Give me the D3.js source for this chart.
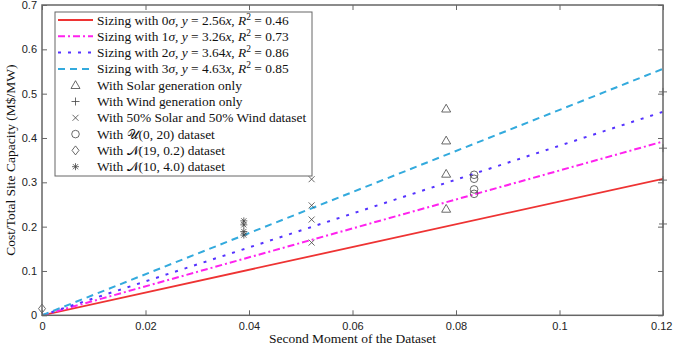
<!DOCTYPE html>
<html><head><meta charset="utf-8">
<script src="https://cdn.jsdelivr.net/npm/d3@7"></script>
<style>body{margin:0;background:#fff}</style>
</head><body>
<svg id="c" width="673" height="351"></svg>
<script>
// ---- data ----
const xTicks = [0, 0.02, 0.04, 0.06, 0.08, 0.1, 0.12];
const xTickLabels = ["0", "0.02", "0.04", "0.06", "0.08", "0.1", "0.12"];
const yTicks = [0, 0.1, 0.2, 0.3, 0.4, 0.5, 0.6, 0.7];
const yTickLabels = ["0", "0.1", "0.2", "0.3", "0.4", "0.5", "0.6", "0.7"];
const fitNames = ["0σ", "1σ", "2σ", "3σ"];
const fitSlopeLabels = ["2.56", "3.26", "3.64", "4.63"];
const fitR2 = ["0.46", "0.73", "0.86", "0.85"];
const fitEndY = [0.308, 0.392, 0.459, 0.556]; // line value at x = 0.12 as drawn
const solarX = [0.0781, 0.0781, 0.0781, 0.0781];
const solarY = [0.466, 0.394, 0.319, 0.240];
const windX = [0.12, 0.12, 0.12, 0.12];
const windY = [0.504, 0.377, 0.305, 0.206];
const mixX = [0.0521, 0.0521, 0.0521, 0.0521];
const mixY = [0.307, 0.248, 0.216, 0.164];
const uniX = [0.0835, 0.0835, 0.0835, 0.0835];
const uniY = [0.317, 0.308, 0.284, 0.274];
const n19X = [0];
const n19Y = [0.015];
const n10X = [0.039, 0.039, 0.039, 0.039];
const n10Y = [0.213, 0.204, 0.189, 0.181];
const scatterNames = ["With Solar generation only", "With Wind generation only",
  "With 50% Solar and 50% Wind dataset", "U", "N19", "N10"];

// ---- drawing ----
const svg = d3.select("#c");
const L = 42, R = 663, T = 5, B = 315.3;
const x = d3.scaleLinear().domain([0, 0.12]).range([L, R]);
const y = d3.scaleLinear().domain([0, 0.7]).range([B, T]);
const axisCol = "#666";
const sans = "'Liberation Sans', Arial, sans-serif";
const serif = "'Liberation Serif', 'Times New Roman', serif";

const fitStyles = [
  {c: "#ee3333", d: null, w: 1.8},
  {c: "#ff22ee", d: "7,3,2,3", w: 2},
  {c: "#5533ff", d: "3,7", w: 2},
  {c: "#33aadd", d: "7,5", w: 2}
];

// clip
svg.append("defs").append("clipPath").attr("id", "pc")
  .append("rect").attr("x", L).attr("y", T).attr("width", R - L).attr("height", B - T);

// fit lines
const gLines = svg.append("g").attr("clip-path", "url(#pc)");
fitEndY.forEach((v, i) => {
  gLines.append("line")
    .attr("x1", x(0)).attr("y1", y(0)).attr("x2", x(0.12)).attr("y2", y(v))
    .attr("stroke", fitStyles[i].c).attr("stroke-width", fitStyles[i].w)
    .attr("stroke-dasharray", fitStyles[i].d);
});

// marker drawers
const mk = "#444";
function marker(g, type, cx, cy) {
  const s = 4;
  if (type === 0) g.append("path").attr("d", `M${cx},${cy - 4.5}L${cx + 4.5},${cy + 3.3}L${cx - 4.5},${cy + 3.3}Z`);
  else if (type === 1) g.append("path").attr("d", `M${cx - s},${cy}H${cx + s}M${cx},${cy - s}V${cy + s}`);
  else if (type === 2) g.append("path").attr("d", `M${cx - 3},${cy - 3}L${cx + 3},${cy + 3}M${cx - 3},${cy + 3}L${cx + 3},${cy - 3}`);
  else if (type === 3) g.append("circle").attr("cx", cx).attr("cy", cy).attr("r", 3.8);
  else if (type === 4) g.append("path").attr("d", `M${cx},${cy - 4.5}L${cx + 3.5},${cy}L${cx},${cy + 4.5}L${cx - 3.5},${cy}Z`);
  else if (type === 5) g.append("path").attr("d",
    `M${cx - 3.5},${cy}H${cx + 3.5}M${cx},${cy - 3.5}V${cy + 3.5}M${cx - 2.6},${cy - 2.6}L${cx + 2.6},${cy + 2.6}M${cx - 2.6},${cy + 2.6}L${cx + 2.6},${cy - 2.6}`);
}
const gM = svg.append("g").attr("fill", "none").attr("stroke", mk).attr("stroke-width", 0.8);
const sets = [[solarX, solarY], [windX, windY], [mixX, mixY], [uniX, uniY], [n19X, n19Y], [n10X, n10Y]];
sets.forEach((s, t) => s[0].forEach((xv, i) => marker(gM, t, x(xv), y(s[1][i]))));

// frame
svg.append("rect").attr("x", L).attr("y", T).attr("width", R - L).attr("height", B - T)
  .attr("fill", "none").attr("stroke", axisCol).attr("stroke-width", 1.5);

// axes with inward ticks
const xa = d3.axisBottom(x).tickValues(xTicks).tickSize(-5).tickPadding(7)
  .tickFormat((d, i) => xTickLabels[i]);
const gx = svg.append("g").attr("transform", `translate(0,${B})`).call(xa);
const ya = d3.axisLeft(y).tickValues(yTicks).tickSize(-5).tickPadding(5)
  .tickFormat((d, i) => yTickLabels[i]);
const gy = svg.append("g").attr("transform", `translate(${L},0)`).call(ya);
const xt = d3.axisTop(x).tickValues(xTicks).tickSize(-5).tickFormat("");
const gxt = svg.append("g").attr("transform", `translate(0,${T})`).call(xt);
const yr = d3.axisRight(y).tickValues(yTicks).tickSize(-5).tickFormat("");
const gyr = svg.append("g").attr("transform", `translate(${R},0)`).call(yr);
[gx, gy, gxt, gyr].forEach(g => {
  g.select(".domain").remove();
  g.selectAll(".tick line").attr("stroke", axisCol).attr("stroke-width", 1);
  g.selectAll("text").attr("font-family", sans).attr("font-size", 11).attr("fill", "#222");
});
gx.selectAll(".tick text").filter((d, i) => i === xTicks.length - 1).attr("text-anchor", "end").attr("dx", 9);

// axis titles
svg.append("text").attr("x", (L + R) / 2).attr("y", 343).attr("text-anchor", "middle")
  .attr("font-family", serif).attr("font-size", 13.5).attr("fill", "#111")
  .text("Second Moment of the Dataset");
svg.append("text").attr("transform", `translate(15,${(T + B) / 2}) rotate(-90)`)
  .attr("text-anchor", "middle").attr("font-family", serif).attr("font-size", 13.5).attr("fill", "#111")
  .text("Cost/Total Site Capacity (M$/MW)");

// legend
const lg = svg.append("g");
lg.append("rect").attr("x", 55).attr("y", 12).attr("width", 257).attr("height", 164)
  .attr("fill", "#fff").attr("stroke", axisCol).attr("stroke-width", 1);
const rowY = i => 20 + i * 16.3;
const tx = 97;
function addText(i, parts) {
  const t = lg.append("text").attr("x", tx).attr("y", rowY(i) + 4.5)
    .attr("font-family", serif).attr("font-size", 13.4).attr("fill", "#111");
  parts.forEach(p => {
    const ts = t.append("tspan").text(p.t);
    if (p.i) ts.attr("font-style", "italic");
    if (p.sup) ts.attr("font-size", 9.5).attr("dy", -5);
    if (p.down) ts.attr("dy", 5);
  });
}
fitNames.forEach((n, i) => {
  lg.append("line").attr("x1", 58).attr("x2", 93).attr("y1", rowY(i)).attr("y2", rowY(i))
    .attr("stroke", fitStyles[i].c).attr("stroke-width", fitStyles[i].w)
    .attr("stroke-dasharray", fitStyles[i].d);
  addText(i, [{t: "Sizing with " + n.replace("σ", "")}, {t: "σ", i: true}, {t: ", "},
    {t: "y", i: true}, {t: " = " + fitSlopeLabels[i]}, {t: "x", i: true}, {t: ", "},
    {t: "R", i: true}, {t: "2", sup: true}, {t: " = " + fitR2[i], down: true}]);
});
const gLM = lg.append("g").attr("fill", "none").attr("stroke", mk).attr("stroke-width", 0.8);
const lgTexts = [
  [{t: scatterNames[0]}],
  [{t: scatterNames[1]}],
  [{t: scatterNames[2]}],
  [{t: "With "}, {t: "𝒰"}, {t: "(0, 20) dataset"}],
  [{t: "With "}, {t: "𝒩"}, {t: "(19, 0.2) dataset"}],
  [{t: "With "}, {t: "𝒩"}, {t: "(10, 4.0) dataset"}]
];
lgTexts.forEach((p, j) => {
  const i = j + 4;
  marker(gLM, j, 75.5, rowY(i));
  addText(i, p);
});
</script>
</body></html>
